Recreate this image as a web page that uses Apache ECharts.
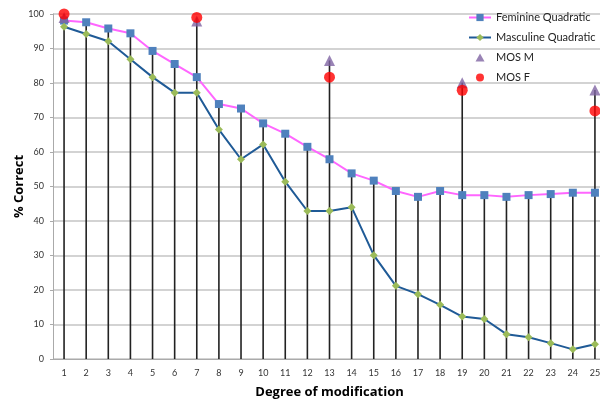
<!DOCTYPE html>
<html><head><meta charset="utf-8">
<script src="https://cdn.jsdelivr.net/npm/echarts@6/dist/echarts.min.js"></script>
<style>html,body{margin:0;padding:0;background:#fff}#c{width:600px;height:400px}</style>
</head><body><div id="c"></div>
<script>
const categories = ['1','2','3','4','5','6','7','8','9','10','11','12','13','14','15','16','17','18','19','20','21','22','23','24','25'];
const feminine = [98.1,97.6,95.8,94.4,89.3,85.5,81.7,73.9,72.6,68.3,65.3,61.5,57.9,53.8,51.7,48.7,47.0,48.7,47.5,47.5,47.0,47.5,47.8,48.2,48.2];
const masculine = [96.3,94.2,92.1,86.9,81.7,77.2,77.2,66.5,57.9,62.2,51.4,42.9,42.9,44.0,30.1,21.2,18.8,15.7,12.3,11.6,7.2,6.3,4.6,2.8,4.3];
const mosM = [99,null,null,null,null,null,98,null,null,null,null,null,86.5,null,null,null,null,null,80.1,null,null,null,null,null,78.0];
const mosF = [100,null,null,null,null,null,99,null,null,null,null,null,81.7,null,null,null,null,null,77.9,null,null,null,null,null,71.9];
const yTicks = [0,10,20,30,40,50,60,70,80,90,100];

const dropTop = categories.map((c,i)=>Math.max(...[feminine[i],masculine[i],mosM[i],mosF[i]].filter(v=>v!=null)));

const chart = echarts.init(document.getElementById('c'));
const font = 'Lato, "Open Sans", "Liberation Sans", sans-serif';
chart.setOption({
  animation:false,
  textStyle:{fontFamily:font},
  grid:{left:53,right:-6,top:14,bottom:41,containLabel:false,outerBoundsMode:'none'},
  legend:{
    orient:'vertical', left:463, top:7, itemWidth:22, itemHeight:9, itemGap:9,
    textStyle:{fontSize:11,color:'#222',fontFamily:font},
    data:['Feminine Quadratic','Masculine Quadratic',
      {name:'MOS M', icon:'path://M0,0M22,9M11,0.5L15.5,8.5L6.5,8.5Z'},
      {name:'MOS F', icon:'path://M0,0M22,9M11,0.5A4,4 0 1 1 10.99,0.5Z'}]
  },
  xAxis:{
    type:'category', data:categories, boundaryGap:true,
    name:'Degree of modification', nameLocation:'middle', nameGap:27, nameMoveOverlap:false,
    nameTextStyle:{fontSize:13,fontWeight:'bold',color:'#000',fontFamily:'"Open Sans", sans-serif'},
    axisLine:{lineStyle:{color:'#aaa'}},
    axisTick:{show:false},
    axisLabel:{fontSize:9,color:'#333',margin:10,interval:0}
  },
  yAxis:{
    type:'value', min:yTicks[0], max:yTicks[yTicks.length-1], interval:10,
    name:'% Correct', nameLocation:'middle', nameGap:27, nameMoveOverlap:false,
    nameTextStyle:{fontSize:13,fontWeight:'bold',color:'#000',fontFamily:'"Open Sans", sans-serif'},
    axisLine:{show:true,lineStyle:{color:'#aaa'}},
    axisTick:{show:true,length:3,lineStyle:{color:'#aaa'}},
    axisLabel:{fontSize:9,color:'#333',margin:9},
    splitLine:{lineStyle:{color:'#c4c4c4',width:1.5}}
  },
  series:[
    {type:'bar', name:'drop', data:dropTop, barWidth:1.6, itemStyle:{color:'#222'}, z:1, silent:true},
    {type:'line', name:'Feminine Quadratic', data:feminine, z:3,
      lineStyle:{color:'#ff66ff',width:2}, itemStyle:{color:'#4f81bd'},
      symbol:'rect', symbolSize:8, showAllSymbol:true},
    {type:'line', name:'Masculine Quadratic', data:masculine, z:3,
      lineStyle:{color:'#1f5a96',width:2}, itemStyle:{color:'#9bbb59'},
      symbol:'diamond', symbolSize:8, showAllSymbol:true},
    {type:'scatter', name:'MOS M', data:mosM, z:4,
      symbol:'triangle', symbolSize:11, itemStyle:{color:'#8064a2'}},
    {type:'scatter', name:'MOS F', data:mosF, z:5,
      symbol:'circle', symbolSize:11, itemStyle:{color:'#ff0000'}}
  ]
});
</script></body></html>
